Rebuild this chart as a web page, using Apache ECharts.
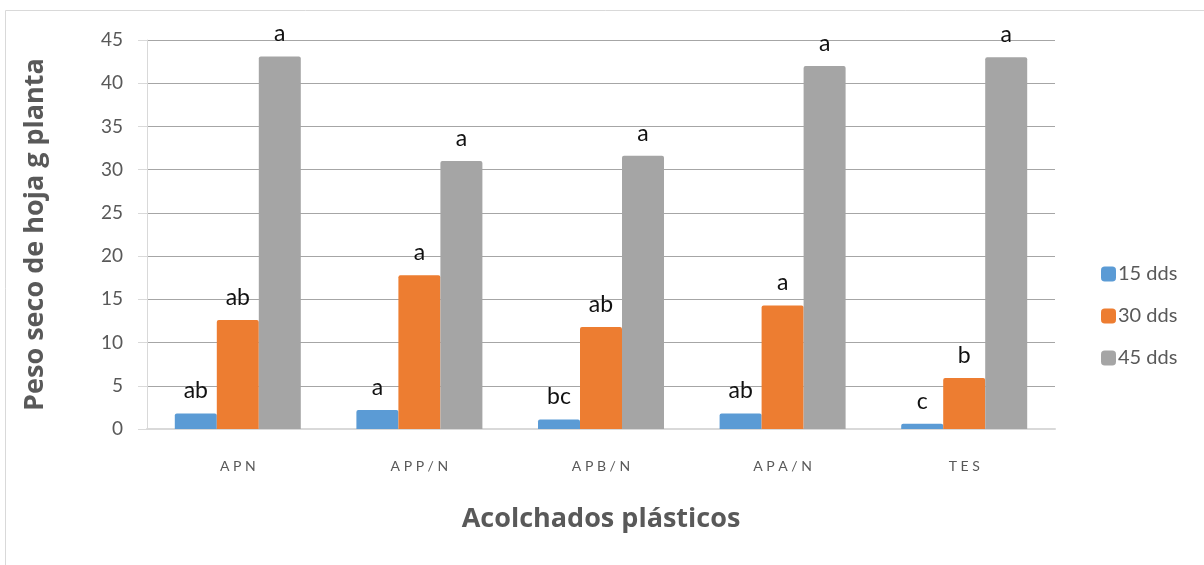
<!DOCTYPE html>
<html>
<head>
<meta charset="utf-8">
<script src="https://cdn.jsdelivr.net/npm/echarts@6/dist/echarts.min.js"></script>
<style>
  html, body { margin: 0; padding: 0; background: #fff; }
  #chart { width: 1204px; height: 565px; }
</style>
</head>
<body>
<div id="chart"></div>
<script>
// Treatments (plastic mulches) and leaf dry weight per sampling date
const categories = ['APN', 'APP/N', 'APB/N', 'APA/N', 'TES'];
const seriesNames = ['15 dds', '30 dds', '45 dds'];
const values15 = [1.8, 2.2, 1.1, 1.8, 0.6];
const values30 = [12.6, 17.8, 11.8, 14.3, 5.9];
const values45 = [43.1, 31.0, 31.6, 42.0, 43.0];
// Significance letters drawn above each bar
const letters15 = ['ab', 'a', 'bc', 'ab', 'c'];
const letters30 = ['ab', 'a', 'ab', 'a', 'b'];
const letters45 = ['a', 'a', 'a', 'a', 'a'];
const colors = ['#5B9BD5', '#ED7D31', '#A5A5A5'];

const FONT = 'Lato, "Open Sans", sans-serif';
const TITLE_FONT = '"Open Sans", Lato, sans-serif';
const TEXT_GREY = '#595959';

function barSeries(name, vals, letters, color) {
  return {
    name: name,
    type: 'bar',
    barWidth: 42,
    barGap: '0%',
    data: vals,
    itemStyle: { color: color, borderRadius: [2, 2, 0, 0] },
    label: {
      show: true,
      position: 'top',
      distance: 11,
      fontFamily: FONT,
      fontSize: 23,
      color: '#111',
      formatter: p => letters[p.dataIndex]
    }
  };
}

const chart = echarts.init(document.getElementById('chart'), null, { renderer: 'canvas' });
chart.setOption({
  animation: false,
  backgroundColor: '#fff',
  textStyle: { fontFamily: FONT },
  graphic: [{
    type: 'rect',
    shape: { x: 5.5, y: 10.5, width: 1400, height: 800 },
    style: { fill: 'none', stroke: '#d9d9d9', lineWidth: 1 },
    silent: true,
    z: -10
  }],
  grid: { left: 147, right: 149, top: 40, bottom: 136, containLabel: false },
  legend: {
    orient: 'vertical',
    left: 1096,
    top: 259,
    itemWidth: 15,
    itemHeight: 15,
    itemGap: 22,
    icon: 'roundRect',
    textStyle: { fontFamily: FONT, fontSize: 20, color: TEXT_GREY, padding: [0, 0, 0, -3] },
    data: seriesNames
  },
  xAxis: {
    type: 'category',
    data: categories,
    name: 'Acolchados plásticos',
    nameLocation: 'middle',
    nameGap: 77,
    nameTextStyle: { fontFamily: TITLE_FONT, fontSize: 27, fontWeight: 'bold', color: TEXT_GREY },
    axisLine: { lineStyle: { color: '#d9d9d9', width: 2 } },
    axisTick: { show: false },
    axisLabel: {
      margin: 30,
      fontSize: 14,
      color: TEXT_GREY,
      formatter: v => v.split('').join(' ')
    }
  },
  yAxis: {
    type: 'value',
    min: 0,
    max: 45,
    interval: 5,
    name: 'Peso seco de hoja g planta',
    nameLocation: 'middle',
    nameGap: 98,
    nameTextStyle: { fontFamily: TITLE_FONT, fontSize: 27, fontWeight: 'bold', color: TEXT_GREY },
    axisLine: { show: true, lineStyle: { color: '#d9d9d9', width: 1 } },
    axisTick: { show: true, inside: false, length: 9, lineStyle: { color: '#d9d9d9' } },
    axisLabel: { margin: 24, fontSize: 19, color: TEXT_GREY },
    splitLine: { lineStyle: { color: '#a6a6a6', width: 1 } }
  },
  series: [
    barSeries(seriesNames[0], values15, letters15, colors[0]),
    barSeries(seriesNames[1], values30, letters30, colors[1]),
    barSeries(seriesNames[2], values45, letters45, colors[2])
  ]
});
</script>
</body>
</html>
